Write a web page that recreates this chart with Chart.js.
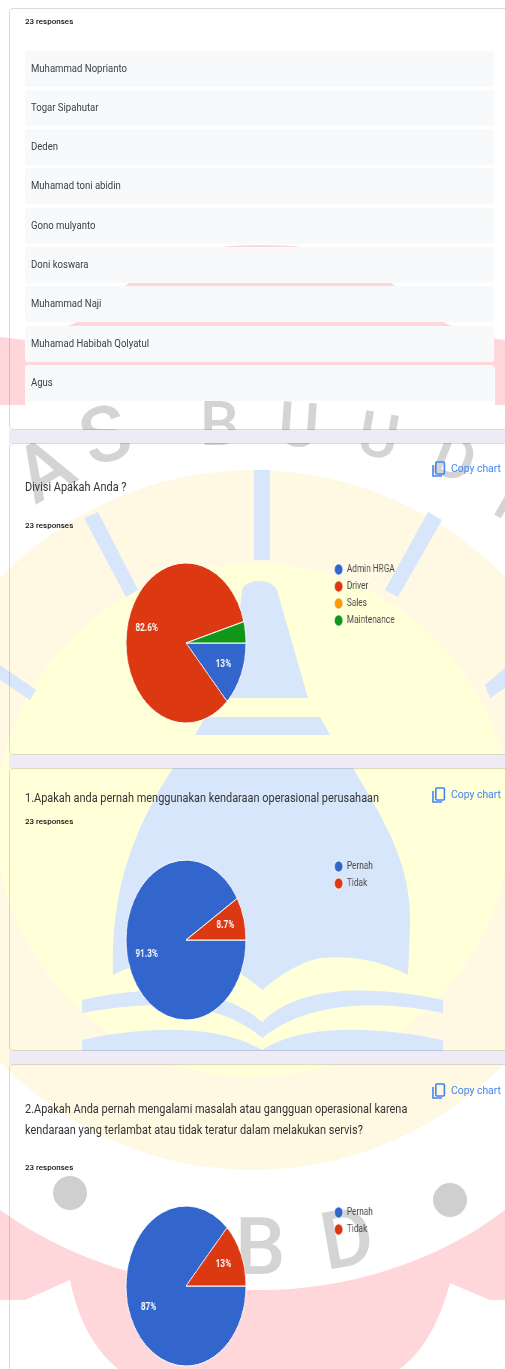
<!DOCTYPE html>
<html lang="id">
<head>
  <meta charset="UTF-8">
  <title>Responses</title>
  <script src="https://cdn.jsdelivr.net/npm/chart.js"></script>
  <style>
    html, body { margin: 0; padding: 0; background: #fff; }
    body { position: relative; width: 505px; height: 1369px; overflow: hidden; font-family: Roboto, sans-serif; color: #202124; filter: blur(0.4px); }
    .strip { position: absolute; left: 9px; width: 496px; background: #eeebf7; }
    .card { position: absolute; left: 9px; width: 500px; background: #fff; border: 1px solid #dadce0; border-radius: 4px; box-sizing: border-box; }
    #watermark { position: absolute; left: 0; top: 0; mix-blend-mode: multiply; }
    .text { position: absolute; left: 25px; white-space: nowrap; }
    .title { font-size: 12.4px; line-height: 21px; color: #333; transform: scaleX(0.883); transform-origin: left top; }
    .count { font-size: 8px; line-height: 10px; font-weight: 500; color: #111; }
    .item { position: absolute; left: 25px; width: 469px; height: 36px; line-height: 36px; background: #f8f9fa; border-radius: 2px; font-size: 10.4px; color: #3c4043; }
    .item span { position: absolute; left: 6px; white-space: nowrap; transform: scaleX(0.92); transform-origin: left top; }
    .copy { position: absolute; left: 432px; height: 16px; color: #4285f4; font-size: 10.4px; line-height: 16px; white-space: nowrap; }
    .copy svg { position: absolute; left: 0; top: 0; }
    .copy span { position: absolute; left: 19px; }
    canvas.pie { position: absolute; left: 42px; transform: scaleX(0.75); transform-origin: left top; }
  </style>
</head>
<body>
  <div class="card" style="top:8px;height:422px"></div>
  <div class="card" style="top:443px;height:312px"></div>
  <div class="card" style="top:768px;height:283px"></div>
  <div class="card" style="top:1064px;height:330px"></div>

  <!-- Watermark logo over the cards -->
  <svg id="watermark" width="505" height="1369" viewBox="0 0 505 1369">
    <g fill="#ffd6da">
      <path d="M0 337 L25 340 C60 330 90 322 120 290 C170 248 220 245 262 245 C320 245 360 255 400 290 C430 318 460 335 505 340 L505 405 L495 405 L495 368 L25 368 L25 405 L0 405 Z"/>
      <path d="M0 1210 C70 1260 160 1290 262 1290 C350 1290 440 1260 505 1210 L505 1369 L0 1369 Z"/>
    </g>
    <g fill="#ffffff">
      <path d="M0 1300 L25 1300 L70 1280 C78 1320 95 1350 118 1369 L0 1369 Z"/>
      <path d="M505 1300 L490 1300 L450 1283 C440 1320 425 1350 400 1369 L505 1369 Z"/>
    </g>
    <circle cx="253" cy="820" r="350" fill="#fff9e3"/>
    <circle cx="253" cy="820" r="257" fill="#ffffd8"/>
    <g fill="#d8e6fb">
      <rect x="254" y="470" width="16" height="90"/>
      <path d="M84 518 L98 512 L138 590 L126 597 Z"/>
      <path d="M428 512 L442 520 L398 597 L385 590 Z"/>
      <path d="M0 665 L36 690 L30 700 L0 680 Z"/>
      <path d="M505 668 L485 685 L490 698 L505 688 Z"/>
      <path d="M242 590 C245 578 272 578 277 590 L308 698 L230 698 Z"/>
      <path d="M205 717 L320 717 L330 735 L195 735 Z"/>
      <path d="M173 768 L353 768 C380 815 412 860 410 925 L408 975 C380 960 350 955 320 958 C300 962 280 975 262 990 C245 975 225 962 205 958 C175 955 140 960 113 975 C110 880 140 820 173 768 Z"/>
      <path d="M82 1000 C150 985 220 985 262 1022 C300 985 370 985 443 1000 L443 1013 C380 1000 310 1000 262 1038 C220 1000 150 1000 82 1013 Z"/>
      <path d="M82 1040 C150 1025 220 1025 262 1050 C300 1025 370 1025 443 1040 L443 1051 L82 1051 Z"/>
    </g>
    <g fill="#d4d4d4" font-family="Roboto, sans-serif" font-weight="500" font-size="78">
      <text transform="translate(35 505) rotate(-30)">A</text>
      <text transform="translate(92 468) rotate(-20)">S</text>
      <text x="200" y="445" font-size="62">B</text>
      <text x="277" y="445" font-size="62" transform="rotate(4 277 445)">U</text>
      <text x="355" y="453" font-size="62" transform="rotate(10 355 453)">U</text>
      <text x="428" y="470" font-size="62" transform="rotate(22 428 470)">D</text>
      <text x="490" y="512" font-size="62" transform="rotate(30 490 512)">I</text>
      <text x="155" y="1268" font-size="70">A</text>
      <text x="235" y="1274" font-size="80">B</text>
      <text x="326" y="1270" font-size="80" transform="rotate(-10 326 1270)">D</text>
    </g>
    <circle cx="70" cy="1193" r="17" fill="#cfcfcf"/>
    <circle cx="450" cy="1200" r="17" fill="#cfcfcf"/>
  </svg>

  <!-- Lavender gaps between the cards stay clean -->
  <div class="strip" style="top:430px;height:13px"></div>
  <div class="strip" style="top:755px;height:13px"></div>
  <div class="strip" style="top:1051px;height:13px"></div>

  <div id="names"></div>

  <div class="text count" style="top:17px">23 responses</div>

  <div class="text title" style="top:476px">Divisi Apakah Anda ?</div>
  <div class="text count" style="top:521px">23 responses</div>
  <div class="copy" style="top:461px"><svg width="14" height="17" viewBox="0 0 14 17"><path d="M1 4v11h9" fill="none" stroke="#4285f4" stroke-width="1.6"/><rect x="3.8" y="1" width="8.6" height="12" rx="1" fill="none" stroke="#4285f4" stroke-width="1.6"/></svg><span>Copy chart</span></div>
  <canvas class="pie" id="divisiChart" width="502" height="170" style="top:558px"></canvas>

  <div class="text title" style="top:787px">1.Apakah anda pernah menggunakan kendaraan operasional perusahaan</div>
  <div class="text count" style="top:817px">23 responses</div>
  <div class="copy" style="top:787px"><svg width="14" height="17" viewBox="0 0 14 17"><path d="M1 4v11h9" fill="none" stroke="#4285f4" stroke-width="1.6"/><rect x="3.8" y="1" width="8.6" height="12" rx="1" fill="none" stroke="#4285f4" stroke-width="1.6"/></svg><span>Copy chart</span></div>
  <canvas class="pie" id="pernahChart" width="502" height="170" style="top:855px"></canvas>

  <div class="text title" style="top:1098px">2.Apakah Anda pernah mengalami masalah atau gangguan operasional karena<br>kendaraan yang terlambat atau tidak teratur dalam melakukan servis?</div>
  <div class="text count" style="top:1163px">23 responses</div>
  <div class="copy" style="top:1083px"><svg width="14" height="17" viewBox="0 0 14 17"><path d="M1 4v11h9" fill="none" stroke="#4285f4" stroke-width="1.6"/><rect x="3.8" y="1" width="8.6" height="12" rx="1" fill="none" stroke="#4285f4" stroke-width="1.6"/></svg><span>Copy chart</span></div>
  <canvas class="pie" id="gangguanChart" width="502" height="170" style="top:1201px"></canvas>

  <script>
    const names = ['Muhammad Noprianto', 'Togar Sipahutar', 'Deden', 'Muhamad toni abidin', 'Gono mulyanto',
      'Doni koswara', 'Muhammad Naji', 'Muhamad Habibah Qolyatul', 'Agus'];

    const divisiLabels = ['Admin HRGA', 'Driver', 'Sales', 'Maintenance'];
    const divisiValues = [13, 82.6, 0, 4.3];
    const divisiColors = ['#3366cc', '#dc3912', '#ff9900', '#109618'];

    const pernahLabels = ['Pernah', 'Tidak'];
    const pernahValues = [91.3, 8.7];

    const gangguanLabels = ['Pernah', 'Tidak'];
    const gangguanValues = [87, 13];

    const twoColors = ['#3366cc', '#dc3912'];

    // Daftar nama
    const list = document.getElementById('names');
    names.forEach(function (name, i) {
      const row = document.createElement('div');
      const label = document.createElement('span');
      row.className = 'item';
      row.style.top = (50.5 + i * 39.3) + 'px';
      label.textContent = name;
      row.appendChild(label);
      list.appendChild(row);
    });

    Chart.defaults.font.family = 'Roboto, sans-serif';
    Chart.defaults.animation = false;

    // Legend starts at the same x in every chart, whatever the label length
    const fixedLegend = {
      id: 'fixedLegend',
      beforeLayout(chart) {
        const legend = chart.legend;
        if (legend.fixed) return;
        const fit = legend.fit;
        legend.fit = function () {
          fit.call(this);
          this.width = 118;
        };
        legend.fixed = true;
      }
    };

    // Percent text inside the slices, small slices get none
    const sliceLabels = {
      id: 'sliceLabels',
      afterDatasetsDraw(chart) {
        const ctx = chart.ctx;
        const values = chart.data.datasets[0].data;
        ctx.save();
        ctx.font = 'bold 11px Roboto, sans-serif';
        ctx.fillStyle = '#fff';
        ctx.textAlign = 'center';
        ctx.textBaseline = 'middle';
        chart.getDatasetMeta(0).data.forEach(function (arc, i) {
          if (values[i] < 5) return;
          const mid = (arc.startAngle + arc.endAngle) / 2;
          const r = arc.outerRadius * 0.68;
          ctx.fillText(values[i] + '%', arc.x + Math.cos(mid) * r, arc.y + Math.sin(mid) * r);
        });
        ctx.restore();
      }
    };

    function pie(id, labels, values, colors) {
      new Chart(document.getElementById(id), {
        type: 'pie',
        data: {
          labels: labels,
          datasets: [{ data: values, backgroundColor: colors, borderColor: '#fff', borderWidth: 1 }]
        },
        options: {
          responsive: false,
          rotation: 90,
          radius: 80,
          plugins: {
            tooltip: { enabled: false },
            legend: {
              position: 'right',
              align: 'start',
              labels: {
                usePointStyle: true,
                boxHeight: 8,
                padding: 6,
                color: '#4a4a4a',
                font: { size: 11 }
              }
            }
          }
        },
        plugins: [fixedLegend, sliceLabels]
      });
    }

    pie('divisiChart', divisiLabels, divisiValues, divisiColors);
    pie('pernahChart', pernahLabels, pernahValues, twoColors);
    pie('gangguanChart', gangguanLabels, gangguanValues, twoColors);
  </script>
</body>
</html>
